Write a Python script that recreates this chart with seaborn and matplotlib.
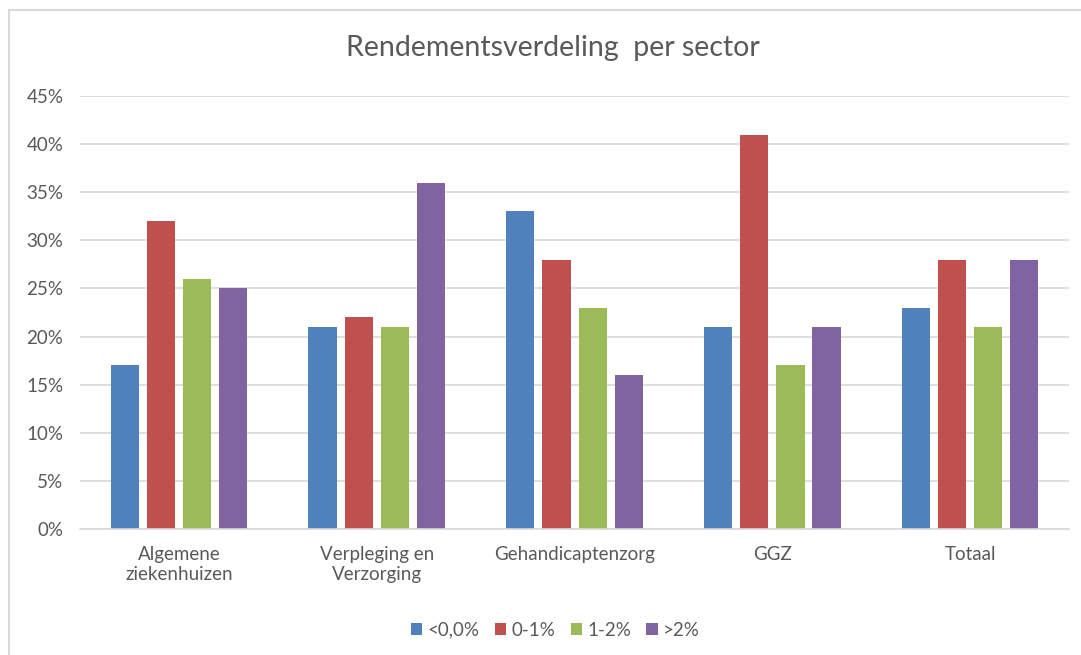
import matplotlib.pyplot as plt
import matplotlib.ticker as mticker
from matplotlib.lines import Line2D
import pandas as pd
import seaborn as sns

# Data
sectors = ["Algemene\nziekenhuizen", "Verpleging en\nVerzorging", "Gehandicaptenzorg", "GGZ", "Totaal"]
classes = ["<0,0%", "0-1%", "1-2%", ">2%"]
below_zero = [0.17, 0.21, 0.33, 0.21, 0.23]
zero_one = [0.32, 0.22, 0.28, 0.41, 0.28]
one_two = [0.26, 0.21, 0.23, 0.17, 0.21]
above_two = [0.25, 0.36, 0.16, 0.21, 0.28]

colors = ["#4F81BD", "#C0504D", "#9BBB59", "#8064A2"]

rows = []
for cls, vals in zip(classes, [below_zero, zero_one, one_two, above_two]):
    for sector, v in zip(sectors, vals):
        rows.append({"sector": sector, "klasse": cls, "aandeel": v})
df = pd.DataFrame(rows)

sns.set_theme(style="white")
plt.rcParams["font.family"] = ["Lato", "DejaVu Sans"]

fig = plt.figure(figsize=(10.81, 6.55), dpi=100)
ax = fig.add_axes([0.074, 0.1924, 0.915, 0.661])

sns.barplot(data=df, x="sector", y="aandeel", hue="klasse", order=sectors,
            hue_order=classes, palette=colors, width=0.73, gap=0.22,
            saturation=1, linewidth=0, ax=ax)

ax.set_ylim(0, 0.45)
ax.set_xlim(-0.5, 4.5)
ax.yaxis.set_major_locator(mticker.MultipleLocator(0.05))
ax.yaxis.set_major_formatter(mticker.PercentFormatter(1.0, decimals=0))
ax.grid(axis="y", color="#D9D9D9", lw=1.2)
ax.set_axisbelow(True)
for side in ["top", "right", "left"]:
    ax.spines[side].set_visible(False)
ax.spines["bottom"].set_color("#D9D9D9")
ax.spines["bottom"].set_linewidth(1.2)
ax.tick_params(axis="both", length=0, colors="#595959", labelsize=13.5)
ax.tick_params(axis="y", pad=12)
ax.tick_params(axis="x", pad=12)
for lbl in ax.get_xticklabels():
    lbl.set_linespacing(1.25)
ax.set_xlabel("")
ax.set_ylabel("")

fig.text(0.511, 0.926, "Rendementsverdeling  per sector", ha="center", va="center",
         fontsize=20.5, color="#595959")

sns.move_legend(ax, "center", bbox_to_anchor=(0.514, 0.038), bbox_transform=fig.transFigure,
                ncol=4, frameon=False, title=None, fontsize=13.5,
                handlelength=0.6, handleheight=0.6, handletextpad=0.3, columnspacing=0.8)
for t in ax.get_legend().get_texts():
    t.set_color("#595959")

# outer chart border (top and left visible)
fig.add_artist(Line2D([0.0083, 1.0], [0.9847, 0.9847], color="#D9D9D9", lw=1.5))
fig.add_artist(Line2D([0.0083, 0.0083], [0.0, 0.9847], color="#D9D9D9", lw=1.5))

fig.savefig("out.png", dpi=100)
